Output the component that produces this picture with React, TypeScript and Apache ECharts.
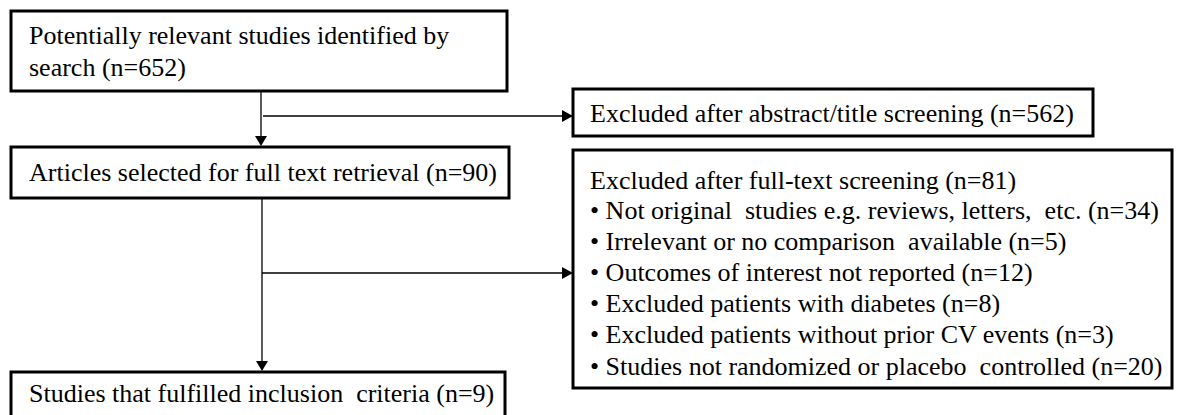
import React, { useEffect, useRef } from 'react';
import * as echarts from 'echarts';

const stageLabels = ['Potentially relevant studies identified by', 'Articles selected for full text retrieval', 'Studies that fulfilled inclusion  criteria'];
const stageSecondLine = ['search', '', ''];
const stageCounts = [652, 90, 9];
const exclusionLabels = ['Excluded after abstract/title screening', 'Excluded after full-text screening'];
const exclusionCounts = [562, 81];
const reasonLabels = [
  'Not original  studies e.g. reviews, letters,  etc.',
  'Irrelevant or no comparison  available',
  'Outcomes of interest not reported',
  'Excluded patients with diabetes',
  'Excluded patients without prior CV events',
  'Studies not randomized or placebo  controlled',
];
const reasonCounts = [34, 5, 12, 8, 3, 20];

const FONT = '26px "Liberation Serif", "Times New Roman", serif';

function txt(x: number, y: number, s: string) {
  return { type: 'text', x, y, style: { text: s, font: FONT, fill: '#000', textAlign: 'left', textVerticalAlign: 'middle' } };
}
function box(x: number, y: number, w: number, h: number) {
  return { type: 'rect', shape: { x, y, width: w, height: h }, style: { fill: '#fff', stroke: '#000', lineWidth: 3 } };
}
function hline(x1: number, x2: number, y: number) {
  return { type: 'line', shape: { x1, y1: y, x2, y2: y }, style: { stroke: '#000', lineWidth: 1.3 } };
}
function vline(x: number, y1: number, y2: number) {
  return { type: 'line', shape: { x1: x, y1, x2: x, y2 }, style: { stroke: '#000', lineWidth: 1.3 } };
}
function arrowDown(x: number, tipY: number) {
  return { type: 'polygon', shape: { points: [[x - 6, tipY - 10], [x + 6, tipY - 10], [x, tipY]] }, style: { fill: '#000' } };
}
function arrowRight(tipX: number, y: number) {
  return { type: 'polygon', shape: { points: [[tipX - 11, y - 6], [tipX - 11, y + 6], [tipX, y]] }, style: { fill: '#000' } };
}

export default function App() {
  const ref = useRef<HTMLDivElement>(null);
  useEffect(() => {
    document.body.style.margin = '0';
    const chart = echarts.init(ref.current!, null, { renderer: 'svg' });
    const els: any[] = [];
    // connectors
    els.push(vline(261, 91, 138), arrowDown(261, 146));
    els.push(hline(263, 565, 116), arrowRight(573, 116));
    els.push(vline(262, 198, 363), arrowDown(262, 371));
    els.push(hline(262, 565, 273), arrowRight(573, 273));
    // stage 1
    els.push(box(11, 11, 496, 80));
    els.push(txt(29, 35, stageLabels[0]));
    els.push(txt(29, 67, `${stageSecondLine[0]} (n=${stageCounts[0]})`));
    // exclusion 1
    els.push(box(573, 89, 520, 47));
    els.push(txt(590, 113, `${exclusionLabels[0]} (n=${exclusionCounts[0]})`));
    // stage 2
    els.push(box(11, 147, 498, 51));
    els.push(txt(29, 172, `${stageLabels[1]} (n=${stageCounts[1]})`));
    // exclusion 2
    els.push(box(573, 150, 599, 238));
    els.push(txt(590, 180, `${exclusionLabels[1]} (n=${exclusionCounts[1]})`));
    reasonLabels.forEach((r, i) => {
      els.push(txt(590, 210 + i * 31.2, `\u2022 ${r} (n=${reasonCounts[i]})`));
    });
    // stage 3
    els.push(box(11, 372, 494, 70));
    els.push(txt(29, 393, `${stageLabels[2]} (n=${stageCounts[2]})`));
    chart.setOption({ animation: false, backgroundColor: '#fff', graphic: { elements: els } });
    return () => chart.dispose();
  }, []);
  return <div ref={ref} style={{ width: 1178, height: 415 }} />;
}
